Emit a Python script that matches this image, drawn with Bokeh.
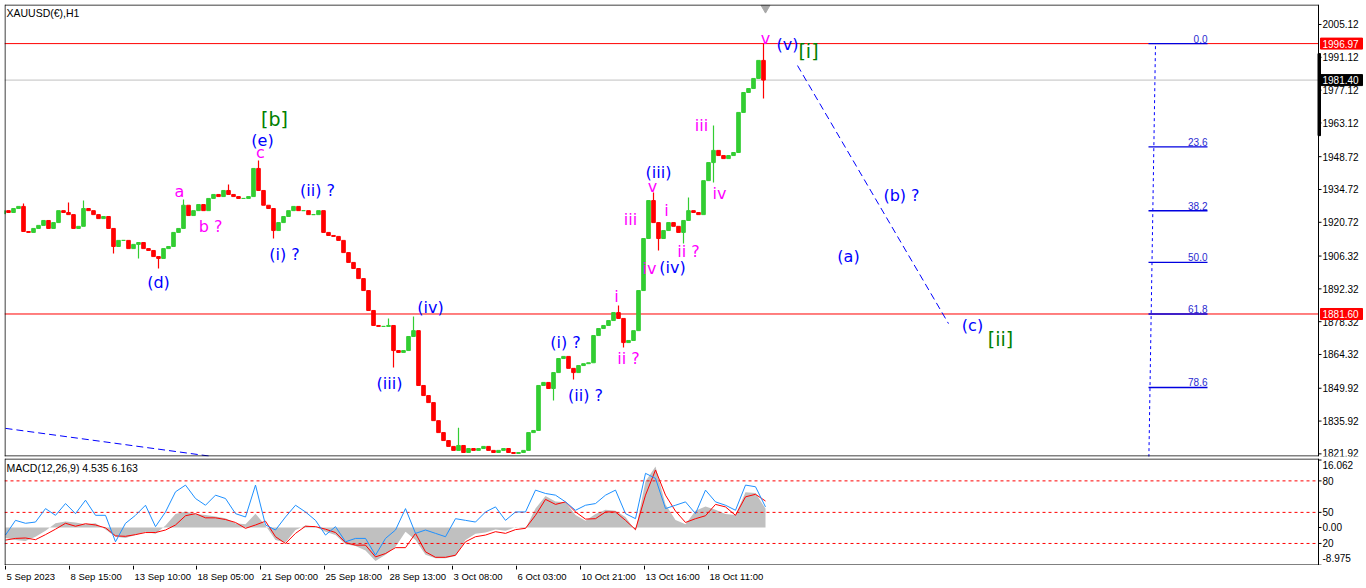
from bokeh.plotting import figure
from bokeh.layouts import column
from bokeh.models import Range1d, Label, ColumnDataSource
from bokeh.embed import file_html
from bokeh.resources import INLINE
from bokeh.core.properties import value, field

# ---------------- data ----------------
BAR_STEP = 5          # one drawn candle = 5 H1 bars
first_open = 1924.3
closes = [
    1925.7, 1924.9, 1926.6, 1927.5, 1916.8, 1916.4, 1918.1, 1919.4, 1921.5, 1918.1,
    1920.6, 1925.7, 1924.9, 1924.0, 1918.1, 1919.0, 1926.6, 1925.7, 1924.0, 1922.3,
    1923.2, 1918.1, 1910.4, 1913.0, 1913.0, 1909.5, 1911.3, 1912.1, 1909.5, 1908.7,
    1906.1, 1905.3, 1909.5, 1910.4, 1916.4, 1918.1, 1928.0, 1923.6, 1925.7, 1928.3,
    1925.7, 1930.9, 1932.6, 1931.7, 1934.3, 1932.6, 1931.7, 1930.9, 1930.9, 1931.7,
    1943.7, 1934.3, 1928.0, 1926.6, 1917.2, 1920.6, 1923.2, 1925.7, 1927.5, 1925.7,
    1925.7, 1924.0, 1924.0, 1925.7, 1916.4, 1915.1, 1914.7, 1913.0, 1907.8, 1903.6,
    1901.0, 1896.7, 1891.6, 1883.1, 1876.7, 1876.3, 1876.3, 1876.7, 1866.0, 1865.2,
    1866.0, 1872.0, 1874.5, 1851.1, 1846.8, 1843.8, 1836.1, 1831.0, 1827.6, 1825.1,
    1823.4, 1825.5, 1822.5, 1824.2, 1823.4, 1824.2, 1825.1, 1823.4, 1822.5, 1823.4,
    1824.2, 1822.5, 1822.1, 1822.5, 1823.4, 1831.0, 1831.9, 1851.1, 1852.4, 1849.8,
    1856.6, 1862.6, 1863.5, 1858.4, 1856.6, 1859.6, 1860.4, 1860.8, 1872.4, 1875.4,
    1876.7, 1878.8, 1882.2, 1879.7, 1869.4, 1870.3, 1874.5, 1891.6, 1913.8, 1930.0,
    1920.6, 1913.8, 1917.2, 1920.6, 1919.0, 1916.4, 1921.5, 1925.7, 1924.9, 1924.0,
    1938.5, 1946.2, 1951.4, 1949.2, 1947.9, 1949.2, 1950.5, 1967.6, 1976.1, 1977.8,
    1982.1, 1989.8, 1981.4,
]
# wick extremes (bar index, price)
spike_bars = [17, 64, 80, 110, 132, 155, 178, 222, 252, 270, 385, 388, 408, 455,
              547, 568, 613, 620, 647, 655, 678, 685, 707, 709, 757, 760]
spike_prices = [1928.7, 1929.2, 1930.0, 1907.4, 1905.3, 1901.0, 1930.4, 1936.8, 1947.1,
                1913.8, 1879.7, 1858.8, 1880.5, 1833.1, 1844.7, 1853.6, 1885.2, 1867.3,
                1933.4, 1908.7, 1911.7, 1931.3, 1962.0, 1937.7, 1997.0, 1973.5]

price_ticks = [2005.12, 1991.12, 1977.12, 1963.12, 1948.72, 1934.72, 1920.72,
               1906.32, 1892.32, 1878.32, 1864.32, 1849.92, 1835.92, 1821.92]
bid_price = 1981.40
line_high = 1996.97
line_mid = 1881.60

fib_high = 1996.97
fib_low = 1810.3
fib_ratios = [0.0, 23.6, 38.2, 50.0, 61.8, 78.6]
fib_bar0, fib_bar1 = 1143, 1202

# MACD panel (every 10 bars)
MACD_STEP = 10
macd_hist = [-2.5, -3.0, -3.2, -2.2, -0.8, 1.0, 1.4, 1.2, 0.8, 1.0, -0.5, -2.2, -2.5, -1.8,
             -1.0, -1.5, 0.5, 3.2, 3.8, 3.2, 3.0, 2.6, 2.2, 1.0, 0.8, 3.3, 0.5, -3.0, -3.6,
             -0.6, 0.5, 0.2, -1.0, -1.8, -4.0, -4.4, -5.5, -8.0, -6.5, -4.6, -1.0, -3.0,
             -6.5, -7.3, -7.3, -6.8, -3.0, -1.5, -1.2, -0.5, -0.8, 0.1, -0.3, 4.5, 7.5,
             6.2, 6.0, 3.0, 1.6, 3.2, 4.2, 4.0, 2.5, -0.8, 11.0, 14.5, 5.5, 1.8, 0.8, 4.0,
             5.0, 4.2, 3.2, 3.0, 8.4, 8.2, 4.5]
macd_signal = [-3.0, -2.6, -2.5, -2.9, -1.7, -0.4, 1.0, 0.3, 0.9, 0.6, -0.1, -2.0, -2.1, -1.7,
               -1.2, -1.2, -0.6, 0.6, 2.8, 3.3, 2.3, 2.3, 1.9, 1.2, -0.2, 0.6, 1.5, -2.2, -3.8,
               -1.4, 0.3, 0.2, -0.4, -1.2, -3.6, -4.2, -4.2, -7.0, -6.2, -4.8, -4.8, -1.4,
               -5.8, -7.1, -7.1, -6.6, -3.4, -2.2, -1.8, -1.0, -1.4, -0.5, -0.2, 2.9, 6.7,
               5.5, 6.1, 3.7, 2.0, 2.1, 3.7, 3.7, 1.7, -0.5, 7.7, 13.7, 7.7, 3.9, 1.2, 2.1,
               2.8, 5.5, 4.9, 2.9, 7.3, 7.9, 6.3]
osc_line = [-1.8, 1.7, 1.0, 1.3, 4.5, 2.9, 5.7, 3.3, 6.5, 2.9, 2.9, -3.4, 1.0, 2.9, 5.3, 0.2,
            3.7, 8.5, 10.1, 6.9, 5.3, 7.7, 6.9, 3.3, 2.5, 10.1, 0.6, -0.6, 2.5, 5.3, 3.7, 1.7,
            -1.8, 0.2, -3.4, -2.6, -2.6, -6.6, -2.6, -0.6, 4.5, -1.4, -0.6, -1.4, -2.2, 2.1,
            1.7, 1.3, 3.7, 4.9, 1.7, 3.7, 3.7, 8.9, 8.1, 7.7, 6.1, 4.1, 5.3, 5.7, 7.7, 8.9,
            3.3, 2.1, 12.9, 11.7, 4.5, 5.3, 6.1, 3.3, 8.9, 6.1, 5.3, 4.1, 10.1, 9.7, 4.9]
level_values = [11.1, 3.6, -3.8]
macd_ticks = [16.062, 11.1, 3.6, 0.0, -3.8, -8.975]
macd_tick_labels = ["16.062", "80", "50", "0.00", "20", "-8.975"]

date_ticks = [0, 64, 128, 191, 255, 319, 383, 447, 511, 575, 639, 703]
date_labels = ["5 Sep 2023", "8 Sep 15:00", "13 Sep 10:00", "18 Sep 05:00", "21 Sep 00:00",
               "25 Sep 18:00", "28 Sep 13:00", "3 Oct 08:00", "6 Oct 03:00", "10 Oct 21:00",
               "13 Oct 16:00", "18 Oct 11:00"]

# Elliott-wave annotations
wave_text = ["[b]", "(e)", "c", "a", "b ?", "(d)", "(ii) ?", "(i) ?", "(iv)", "(iii)",
             "(i) ?", "(ii) ?", "i", "ii ?", "iii", "(iii)", "v", "iv", "(iv)", "i", "ii ?",
             "iii", "iv", "v", "(v)", "[i]", "(b) ?", "(a)", "(c)", "[ii]"]
wave_x = [269, 257, 255, 174, 205, 153, 312, 279, 425, 384, 560, 580, 611, 623, 625, 653,
          647, 644, 667, 661, 683, 696, 714, 760, 782, 803, 896, 843, 967, 995]
wave_y = [1964.6, 1955.6, 1950.5, 1933.9, 1918.9, 1895.0, 1934.3, 1907.0, 1884.4, 1851.9,
          1869.4, 1846.8, 1889.1, 1862.6, 1921.9, 1942.0, 1936.0, 1901.0, 1901.4, 1925.8,
          1908.3, 1962.0, 1933.0, 1999.1, 1996.6, 1994.0, 1932.1, 1906.1, 1876.7, 1871.1]
wave_degree = ["P", "M", "m", "m", "m", "M", "M", "M", "M", "M", "M", "M", "m", "m", "m", "M",
               "m", "m", "M", "m", "m", "m", "m", "m", "M", "P", "M", "M", "M", "P"]

# trend lines (bar, price)
proj_line = ([792, 943], [1987.6, 1877.5])
old_trend = ([0, 207], [1832.8, 1820.8])

# ---------------- styles / geometry ----------------
GREEN = "#32cd32"
RED = "#ff0000"
BLUE = "#0000ff"
MAG = "#ff00ff"
DEG_COLOR = {"P": "#008000", "M": BLUE, "m": MAG}
DEG_SIZE = {"P": "19px", "M": "16px", "m": "16px"}
AXIS_FONT = "Liberation Sans"

X0, X1 = -1, 1361          # 1 px per bar, frame spans the whole window width
EDGE = 1313                # right edge of the chart area (price scale to its right)
Y0, Y1 = 1820.8, 2013.65
M0, M1 = -9.05, 16.43
xr = Range1d(X0, X1)


def frame_box(fig, y_lo, y_hi, px_h):
    d = (y_hi - y_lo) / px_h * 0.5
    fig.segment(x0=[X0 + 0.5, X0 + 0.5, EDGE, X0], x1=[X0 + 0.5, EDGE, EDGE, EDGE],
                y0=[y_lo, y_hi - d, y_lo, y_lo + d], y1=[y_hi, y_hi - d, y_hi, y_lo + d],
                color="black", line_width=1)


def price_scale(fig, ticks, labels, baselines, offsets):
    n = len(ticks)
    fig.segment(x0=[EDGE] * n, x1=[EDGE + 3] * n, y0=ticks, y1=ticks, color="black")
    src = ColumnDataSource(dict(x=[EDGE + 4] * n, y=ticks, text=labels, bl=baselines,
                                off=offsets))
    fig.text(x="x", y="y", text="text", text_font=value(AXIS_FONT),
             text_font_size="10px", text_color="black",
             text_baseline=field("bl"), y_offset=field("off"), text_align="left", source=src)


# ---------------- main price panel ----------------
p = figure(frame_width=1362, frame_height=452, x_range=xr, y_range=Range1d(Y0, Y1),
           x_axis_location=None, y_axis_location=None,
           output_backend="svg", toolbar_location=None,
           min_border_left=4, min_border_right=0, min_border_top=4, min_border_bottom=2)
p.grid.visible = False
p.outline_line_color = None

# horizontal lines up to the chart edge
p.segment(x0=[X0] * 3, x1=[EDGE] * 3, y0=[line_high, line_mid, bid_price],
          y1=[line_high, line_mid, bid_price], color=[RED, RED, "#c0c0c0"], line_width=1)

# candles
opens = [first_open] + closes[:-1]
xc = [i * BAR_STEP - 2 for i in range(len(closes))]
cols = [GREEN if c >= o else RED for o, c in zip(opens, closes)]
src = ColumnDataSource(dict(x=xc, top=[max(o, c) for o, c in zip(opens, closes)],
                            bottom=[min(o, c) for o, c in zip(opens, closes)], color=cols))
sx, sy0, sy1, scol = [], [], [], []
for b, pr in zip(spike_bars, spike_prices):
    k = min(range(len(closes)), key=lambda j: abs(xc[j] - b))
    base = closes[k] if abs(pr - closes[k]) < abs(pr - opens[k]) else opens[k]
    sx.append(xc[k]); sy0.append(base); sy1.append(pr); scol.append(cols[k])
p.segment(x0=sx, x1=sx, y0=sy0, y1=sy1, color=scol, line_width=1.2)
p.vbar(x="x", width=3.6, top="top", bottom="bottom", fill_color="color",
       line_color="color", line_width=1, source=src)

# fib levels
fib_prices = [fib_high - r / 100.0 * (fib_high - fib_low) for r in fib_ratios]
p.segment(x0=[fib_bar0] * len(fib_prices), x1=[fib_bar1] * len(fib_prices),
          y0=fib_prices, y1=fib_prices, color="#0000e0", line_width=1.3)
p.text(x=[fib_bar1] * len(fib_prices), y=fib_prices, text=[f"{r:.1f}" for r in fib_ratios],
       text_align="right", text_baseline="bottom", text_font=value(AXIS_FONT),
       text_font_size="10px", text_color="#2a2ad0", y_offset=-1)
p.line(x=[fib_bar0, fib_bar0 + 7], y=[fib_low, fib_high], color=BLUE, line_dash="3 3",
       line_width=1)

# trend lines
p.line(x=proj_line[0], y=proj_line[1], color=BLUE, line_dash="7 4", line_width=1)
p.line(x=old_trend[0], y=old_trend[1], color=BLUE, line_dash="7 4", line_width=1)

# wave labels
wsrc = ColumnDataSource(dict(x=wave_x, y=wave_y, text=wave_text,
                             color=[DEG_COLOR[d] for d in wave_degree],
                             size=[DEG_SIZE[d] for d in wave_degree]))
p.text(x="x", y="y", text="text", text_color=field("color"), text_font_size=field("size"),
       text_font=value("DejaVu Sans"), text_align="center", text_baseline="middle",
       source=wsrc)

# shift marker and scroll bar on the scale
p.scatter(x=[760], y=[2012.2], marker="inverted_triangle", size=9, color="#a8a8a8")
p.quad(left=[EDGE - 0.5], right=[EDGE + 2], bottom=[1957.7], top=[1992.7], color="black")

frame_box(p, Y0, Y1, 452)
n_pt = len(price_ticks)
price_scale(p, price_ticks, [f"{t:.2f}" for t in price_ticks],
            ["middle"] * (n_pt - 1) + ["bottom"], [0] * (n_pt - 1) + [3])

# price boxes on the scale
box_p = [line_high, bid_price, line_mid]
box_c = [RED, "black", RED]
half = 5.5 * (Y1 - Y0) / 452
p.quad(left=[EDGE + 2] * 3, right=[X1 - 4] * 3, bottom=[b - half for b in box_p],
       top=[b + half for b in box_p], color=box_c)
p.text(x=[EDGE + 4] * 3, y=box_p, text=[f"{b:.2f}" for b in box_p], text_font=value(AXIS_FONT),
       text_font_size="10px", text_color="white", text_baseline="middle", text_align="left")

p.add_layout(Label(x=1, y=2010.0, text="XAUUSD(€),H1", text_font=AXIS_FONT,
                   text_font_size="10.5px", text_color="black", text_baseline="middle"))

# ---------------- MACD panel ----------------
q = figure(frame_width=1362, frame_height=107, x_range=xr, y_range=Range1d(M0, M1),
           x_axis_location=None, y_axis_location=None,
           output_backend="svg", toolbar_location=None,
           min_border_left=4, min_border_right=0, min_border_top=0, min_border_bottom=0)
q.grid.visible = False
q.outline_line_color = None
mx = [i * MACD_STEP for i in range(len(macd_hist))]
q.varea(x=mx, y1=[0.0] * len(mx), y2=macd_hist, color="#c0c0c0")
q.segment(x0=[X0] * 3, x1=[EDGE] * 3, y0=level_values, y1=level_values, color=RED,
          line_dash="3 3", line_width=1)
q.line(x=mx, y=macd_signal, color=RED, line_width=1)
q.line(x=mx, y=osc_line, color="#1e90ff", line_width=1)
q.add_layout(Label(x=1, y=14.2, text="MACD(12,26,9) 4.535 6.163", text_font=AXIS_FONT,
                   text_font_size="10.5px", text_color="black", text_baseline="middle"))
frame_box(q, M0, M1, 107)
price_scale(q, macd_ticks, macd_tick_labels,
            ["top", "middle", "middle", "middle", "middle", "bottom"], [1, 0, 0, 0, 0, -3])

# ---------------- time scale strip ----------------
r = figure(frame_width=1362, frame_height=20, x_range=xr, y_range=Range1d(0, 20),
           x_axis_location=None, y_axis_location=None,
           output_backend="svg", toolbar_location=None,
           min_border_left=4, min_border_right=0, min_border_top=0, min_border_bottom=0)
r.grid.visible = False
r.outline_line_color = None
nd = len(date_ticks)
r.segment(x0=date_ticks, x1=date_ticks, y0=[20] * nd, y1=[16] * nd, color="black")
r.text(x=date_ticks, y=[15] * nd, text=date_labels, text_font=value(AXIS_FONT),
       text_font_size="9.5px", text_color="black", text_align="left", text_baseline="top",
       x_offset=1)

layout = column(p, q, r, spacing=0)
open("out.html", "w").write(file_html(layout, INLINE))
